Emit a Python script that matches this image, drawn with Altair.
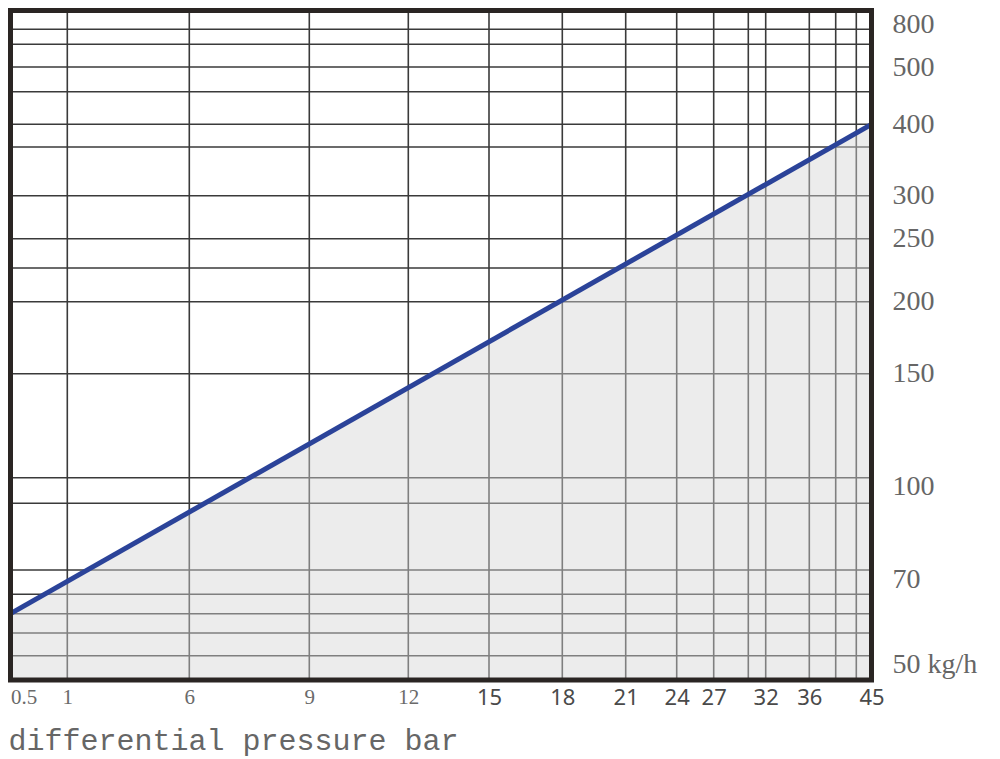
import altair as alt
import pandas as pd

# ---- data ----
x_labels = [0.5, 1, 6, 9, 12, 15, 18, 21, 24, 27, 32, 36, 45]
x_grid = [1, 6, 9, 12, 15, 18, 21, 24, 27, 30, 32, 36, 40, 42]
y_labels = [50, 70, 100, 150, 200, 250, 300, 400, 500, 800]
y_grid = [50, 55, 60, 65, 70, 90, 100, 150, 200, 225, 250, 300, 350, 400, 450, 500, 600, 700]
pressure = [0.5, 45]
flow = [60, 400]
flow_floor = [45, 45]

# ---- irregular (piecewise) chart scales ----
x_dom = [0.5, 1, 6, 9, 12, 15, 18, 21, 24, 27, 30, 32, 36, 40, 42, 45]
x_rng = [2.5, 59.3, 181.3, 301.3, 400.3, 481, 554.3, 617.7, 668.7, 705.7,
         740.3, 757.7, 801.3, 827.7, 848.3, 863.5]
y_dom = [45, 50, 55, 60, 65, 70, 90, 100, 150, 200, 225, 250, 300, 350, 400,
         450, 500, 600, 700, 800]
y_rng = [672, 647.7, 625, 605.7, 586.3, 562, 495.3, 469.7, 365.7, 293.7, 260,
         230.7, 187.7, 139, 116.3, 83.7, 59, 36.3, 21.3, 2.5]

xs = alt.Scale(domain=x_dom, range=x_rng, nice=False, zero=False)
ys = alt.Scale(domain=y_dom, range=y_rng, nice=False, zero=False)

curve = pd.DataFrame({"x": pressure, "y": flow, "b": flow_floor})
vgrid = pd.DataFrame({"x": x_grid})
hgrid = pd.DataFrame({"y": y_grid})
one = pd.DataFrame({"k": [0]})

GRID = "#3a3a3a"

x_axis = alt.Axis(
    values=x_labels, format=".1~f", grid=False, ticks=False, tickSize=0, domain=False,
    labelFlush=False, labelOverlap=False, labelPadding=14,
    labelBaseline="middle",
    labelAlign={"condition": {"test": "datum.value < 0.8", "value": "left"}, "value": "center"},
    labelFont={"condition": {"test": "datum.value < 13", "value": "Liberation Serif"}, "value": "Noto Sans"},
    labelFontSize={"condition": {"test": "datum.value < 13", "value": 21}, "value": 22},
    labelColor={"condition": {"test": "datum.value < 13", "value": "#6a6a6a"}, "value": "#4a4a4a"},
    title="differential pressure bar", titleFont="Liberation Mono",
    titleFontSize=30, titleFontWeight="normal", titleColor="#666666",
    titleAnchor="start", titleAlign="left", titleX=0, titleY=66,
    titleBaseline="alphabetic",
)

y_axis = alt.Axis(
    orient="right", values=y_labels, grid=False, ticks=False, tickSize=0,
    domain=False, labelPadding=18, labelAlign="left", labelBaseline="middle",
    labelFont="Liberation Serif", labelFontSize=28, labelColor="#666666",
    labelOverlap=False, labelBound=False, labelFlush=False,
    labelOffset={"condition": [
        {"test": "datum.value >= 800", "value": 14},
        {"test": "datum.value <= 100", "value": 9},
    ], "value": 0},
    labelExpr="datum.value == 50 ? '50  kg/h' : datum.label",
    title=None,
)

vlines = alt.Chart(vgrid).mark_rule(color=GRID, strokeWidth=1.6).encode(
    x=alt.X("x:Q", scale=xs, axis=x_axis),
    y=alt.value(2.5), y2=alt.value(672),
)
hlines = alt.Chart(hgrid).mark_rule(color=GRID, strokeWidth=1.6).encode(
    y=alt.Y("y:Q", scale=ys, axis=y_axis),
    x=alt.value(2.5), x2=alt.value(863.5),
)

area = alt.Chart(curve).mark_area(color="#d4d4d4", opacity=0.45).encode(
    x=alt.X("x:Q", scale=xs, axis=x_axis),
    y=alt.Y("y:Q", scale=ys, axis=y_axis, stack=False),
    y2=alt.Y2("b:Q"),
)

line = alt.Chart(curve).mark_line(color="#2b4399", strokeWidth=5).encode(
    x=alt.X("x:Q", scale=xs, axis=x_axis),
    y=alt.Y("y:Q", scale=ys, axis=y_axis),
)

border = alt.Chart(one).mark_rect(filled=False, stroke="#2a2523", strokeWidth=5).encode(
    x=alt.value(2.5), x2=alt.value(863.5), y=alt.value(2.5), y2=alt.value(672),
)

chart = alt.layer(vlines, hlines, area, line, border).properties(
    width=866, height=675,
    autosize=alt.AutoSizeParams(type="none"),
    padding={"left": 0, "top": 0, "right": 118, "bottom": 75},
).configure_view(strokeWidth=0)

chart.save("out.html", embed_options={"renderer": "svg", "actions": False})
